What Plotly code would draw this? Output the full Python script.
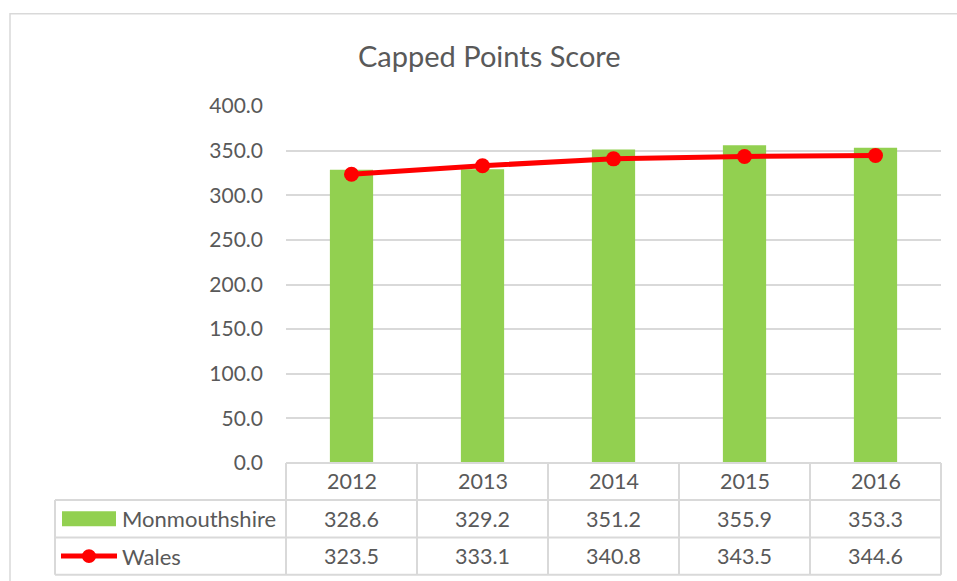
import plotly.graph_objects as go

years = ["2012", "2013", "2014", "2015", "2016"]
monmouthshire = [328.6, 329.2, 351.2, 355.9, 353.3]
wales = [323.5, 333.1, 340.8, 343.5, 344.6]
y_ticks = [0, 50, 100, 150, 200, 250, 300, 350, 400]
series_names = ["Monmouthshire", "Wales"]

W, H = 957, 581
L, R, T, B = 286, 941, 105.5, 463
GREEN = "#92d050"
RED = "#ff0000"
GRID = "#d9d9d9"
TXT = "#595959"
FONT = "Lato"

def px(x):
    return (x - L) / (R - L)

def py(y):
    return (B - y) / (B - T)

fig = go.Figure()
fig.add_trace(go.Bar(x=years, y=monmouthshire, name=series_names[0],
                     marker=dict(color=GREEN, line=dict(width=0)), width=0.33))
fig.add_trace(go.Scatter(x=years, y=wales, name=series_names[1], mode="lines+markers",
                         line=dict(color=RED, width=5),
                         marker=dict(color=RED, size=15)))

shapes = []
ann = []
# outer chart border
shapes.append(dict(type="rect", xref="paper", yref="paper", x0=px(10), x1=px(980),
                   y0=py(13), y1=py(600), line=dict(color=GRID, width=1.5), layer="below"))

ncol = len(years)
colw = (R - L) / ncol
row_y = [463, 500, 537.5, 575]
# horizontal lines
shapes.append(dict(type="line", xref="paper", yref="paper", x0=px(L), x1=px(R),
                   y0=py(row_y[0]), y1=py(row_y[0]), line=dict(color=GRID, width=2)))
for yy in row_y[1:]:
    shapes.append(dict(type="line", xref="paper", yref="paper", x0=px(55), x1=px(R),
                       y0=py(yy), y1=py(yy), line=dict(color=GRID, width=2)))
# vertical lines
for i in range(ncol + 1):
    xx = L + i * colw
    shapes.append(dict(type="line", xref="paper", yref="paper", x0=px(xx), x1=px(xx),
                       y0=py(row_y[0]), y1=py(row_y[3]), line=dict(color=GRID, width=2)))
shapes.append(dict(type="line", xref="paper", yref="paper", x0=px(55), x1=px(55),
                   y0=py(row_y[1]), y1=py(row_y[3]), line=dict(color=GRID, width=2)))

# table text
rows = [years, [f"{v:.1f}" for v in monmouthshire], [f"{v:.1f}" for v in wales]]
for r, vals in enumerate(rows):
    yc = (row_y[r] + row_y[r + 1]) / 2
    for i, v in enumerate(vals):
        xc = L + (i + 0.5) * colw
        ann.append(dict(x=px(xc), y=py(yc), xref="paper", yref="paper", text=v,
                        showarrow=False, font=dict(family=FONT, size=21.5, color=TXT),
                        xanchor="center", yanchor="middle"))

# legend keys in table
yc1 = (row_y[1] + row_y[2]) / 2
yc2 = (row_y[2] + row_y[3]) / 2
shapes.append(dict(type="rect", xref="paper", yref="paper", x0=px(62), x1=px(116),
                   y0=py(yc1 - 7.5), y1=py(yc1 + 7.5), fillcolor=GREEN, line=dict(width=0)))
shapes.append(dict(type="line", xref="paper", yref="paper", x0=px(61), x1=px(117),
                   y0=py(yc2), y1=py(yc2), line=dict(color=RED, width=5)))
shapes.append(dict(type="circle", xref="paper", yref="paper", x0=px(82), x1=px(96),
                   y0=py(yc2 - 7), y1=py(yc2 + 7), fillcolor=RED, line=dict(width=0)))
for name, yc in zip(series_names, [yc1, yc2]):
    ann.append(dict(x=px(120), y=py(yc), xref="paper", yref="paper", text=name,
                    showarrow=False, font=dict(family=FONT, size=22, color=TXT),
                    xanchor="left", yanchor="middle"))

# title
ann.append(dict(x=px(489.5), y=py(55), xref="paper", yref="paper", text="Capped Points Score",
                showarrow=False, font=dict(family=FONT, size=29, color=TXT),
                xanchor="center", yanchor="middle"))

fig.update_layout(
    width=W, height=H,
    margin=dict(l=L, r=W - R, t=T, b=H - B),
    paper_bgcolor="white", plot_bgcolor="white",
    showlegend=False,
    shapes=shapes, annotations=ann,
    xaxis=dict(type="category", showticklabels=False, showgrid=False, zeroline=False,
               showline=False, ticks=""),
    yaxis=dict(range=[0, 400], tickvals=y_ticks,
               ticktext=[f"{v:.1f}" for v in y_ticks],
               showgrid=True, gridcolor=GRID, gridwidth=1.5, zeroline=False,
               showline=False, ticks="", ticklabelstandoff=22,
               tickfont=dict(family=FONT, size=21, color=TXT)),
    bargap=0.67,
)

fig.write_html("out.html", config={"displayModeBar": False},
               post_script="document.body.style.margin='0';document.body.style.overflow='hidden';")
